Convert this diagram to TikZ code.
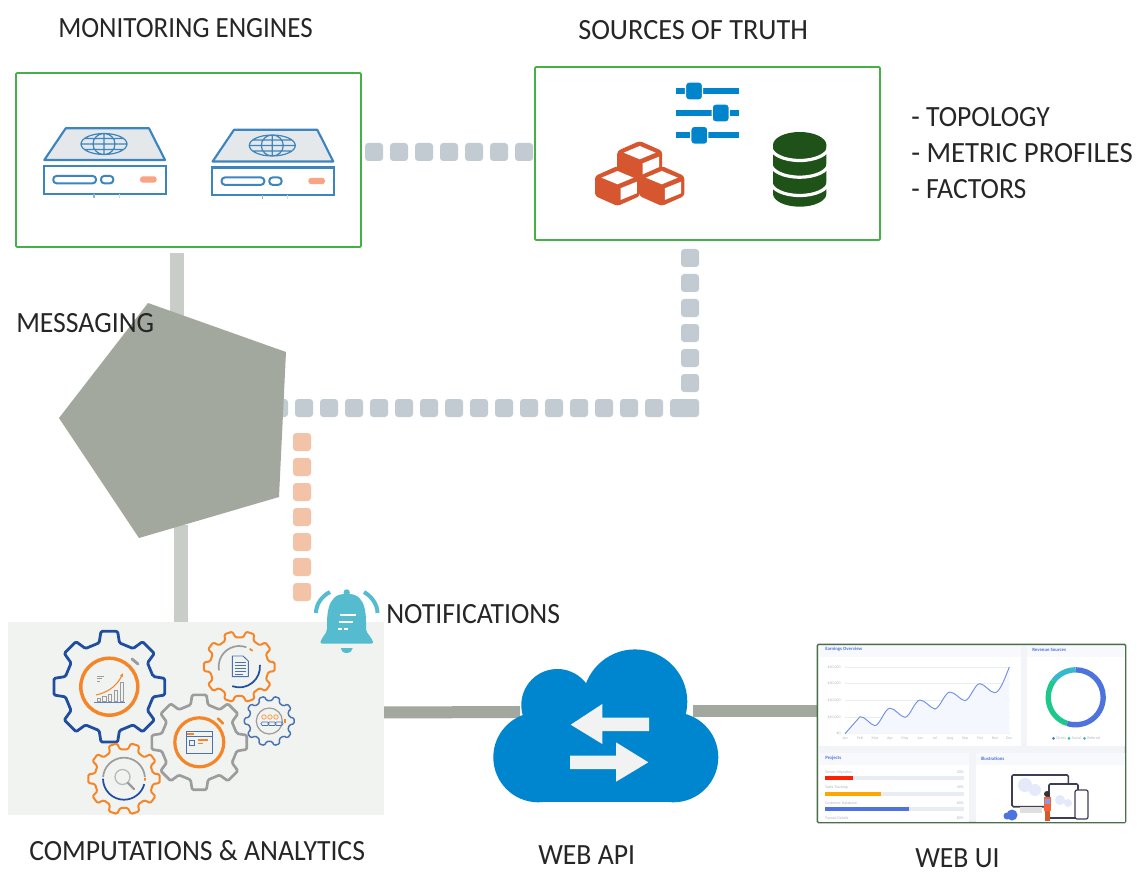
\documentclass[tikz,border=0pt]{standalone}
\usepackage{graphicx}
\usepackage{fontspec}
\setmainfont[FakeStretch=0.945]{Carlito}
\newfontfamily\uifont{Carlito}
\usetikzlibrary{decorations.markings,arrows.meta}
\definecolor{boxgreen}{HTML}{45B045}
\definecolor{srvblue}{HTML}{3D85BD}
\definecolor{srvfill}{HTML}{E4E8EB}
\definecolor{srvorange}{HTML}{F9A484}
\definecolor{dotgray}{HTML}{C2CAD2}
\definecolor{dotorange}{HTML}{F2C3A6}
\definecolor{linelight}{HTML}{C9CDC8}
\definecolor{linedark}{HTML}{A3A89E}
\definecolor{pentagon}{HTML}{A3A89F}
\definecolor{sliderblue}{HTML}{0085CC}
\definecolor{blockred}{HTML}{D5562F}
\definecolor{dbgreen}{HTML}{1E5218}
\definecolor{gearbg}{HTML}{F1F3F1}
\definecolor{gearnavy}{HTML}{1F4E9E}
\definecolor{gearorange}{HTML}{F58529}
\definecolor{geargray}{HTML}{9C9C9C}
\definecolor{bell}{HTML}{55BBCF}
\definecolor{cloud}{HTML}{0085CF}
\definecolor{arrowwhite}{HTML}{F2F2F2}
\definecolor{uiblue}{HTML}{4E73DF}
\definecolor{uigreen}{HTML}{1CC88A}
\definecolor{uicyan}{HTML}{36B9CC}
\definecolor{uibg}{HTML}{F3F4F8}
\definecolor{uihead}{HTML}{F8F9FC}
\definecolor{uiframe}{HTML}{4A704A}
\definecolor{uitext}{HTML}{B5B7C4}
\definecolor{uibar}{HTML}{EAECF4}
\definecolor{uidark}{HTML}{3F3D56}
\tikzset{
  px/.style={x=0.75pt,y=-0.75pt},
  label text/.style={font=\fontsize{22}{24}\selectfont,text=black!85,inner sep=0pt,anchor=west},
  greenbox/.style={draw=boxgreen,line width=1.3pt,fill=white,rounded corners=0.8pt,inner sep=0pt},
  solid light/.style={draw=linelight,line width=10.5pt},
  solid dark/.style={draw=linedark,line width=9pt},
  squares/.style={decoration={markings,mark=between positions 0 and 1 step 18.75pt with {\fill[#1,rounded corners=2.4pt] (-6.75pt,-6.75pt) rectangle (6.75pt,6.75pt);}},decorate},
  gear line/.style={line width=#1,line join=round,line cap=round},
  uitiny/.style={font=\uifont\fontsize{3}{3.5}\selectfont,text=uitext,inner sep=0pt},
  uititle/.style={font=\uifont\bfseries\fontsize{3.6}{4}\selectfont,text=uiblue,inner sep=0pt,anchor=west},
  server/.pic={
    \filldraw[fill=srvfill,draw=srvblue,line width=1.6pt,line join=round] (65.7,128.3)--(149,128.3)--(165,160)--(44.3,160)--cycle;
    \draw[srvblue,line width=0.9pt] (104,144) ellipse (23 and 10.5) (104,144) ellipse (11 and 10.5)
      (104,133.5)--(104,154.5) (81,144)--(127,144) (84,138.5)--(124,138.5) (84,149.5)--(124,149.5);
    \filldraw[fill=white,draw=srvblue,line width=1.6pt] (43.7,166) rectangle (165.7,193.7);
    \draw[srvblue,line width=1.5pt,rounded corners=2.4pt] (53.3,176) rectangle (96,183.3) (101,176) rectangle (113.3,183.3);
    \fill[srvorange,rounded corners=2.2pt] (140,176.3) rectangle (156.7,182.7);
    \draw[srvblue!60,line width=0.9pt] (94,194)--(94,198);
    \draw[srvblue!30,line width=0.9pt] (119.3,194)--(119.3,198);
  },
  cube/.pic={
    \fill[blockred,rounded corners=2.2pt] (0,-20)--(22.5,-10)--(22.5,10)--(0,20)--(-22.5,10)--(-22.5,-10)--cycle;
    \fill[white] (0,-15)--(16,-8.3)--(0,-1.7)--(-16,-8.3)--cycle;
    \fill[white] (3,2.3)--(19.3,-4.3)--(19.3,7.3)--(3,14)--cycle;
  }
}
\newcommand\geardraw[7]{%
  \begin{scope}[shift={(#1,#2)}]
    \pgfmathsetmacro\gp{360/#5}
    \draw[#6,gear line=#7,rounded corners=1pt]
      (-0.29*\gp:#4)
      \foreach \gi in {1,...,#5}{
        -- ({(\gi-1)*\gp-0.19*\gp}:#3) -- ({(\gi-1)*\gp+0.19*\gp}:#3) -- ({(\gi-1)*\gp+0.29*\gp}:#4) -- ({\gi*\gp-0.29*\gp}:#4)
      } -- cycle;
  \end{scope}}
\begin{document}
\begin{tikzpicture}[px]
\useasboundingbox (0,0) rectangle (1137,873);
\fill[white] (0,0) rectangle (1137,873);
\coordinate (monS) at (177,253);
\coordinate (msgN) at (177,320);
\coordinate (msgS) at (181,525);
\coordinate (gearN) at (181,630);
\coordinate (gearE) at (380,712.5);
\coordinate (cloudW) at (520,712);
\coordinate (cloudE) at (693,711);
\coordinate (uiW) at (820,711);
\coordinate (monE) at (374,152);
\coordinate (srcW) at (530,152);
\coordinate (msgE) at (279,408);
\coordinate (corner) at (680,408);
\coordinate (cornerB) at (690,408);
\coordinate (srcS) at (690,253);
\coordinate (msgO) at (302,442);
\coordinate (bellW) at (302,600);
\draw[solid light] (monS) -- (msgN);
\draw[solid light] (msgS) -- (gearN);
\draw[solid dark] (gearE) -- (cloudW);
\draw[solid dark] (cloudE) -- (uiW);
\node[greenbox,minimum width=258.75pt,minimum height=130.5pt] (mon) at (188.5,160) {};
\node[greenbox,minimum width=258.75pt,minimum height=129.75pt] (src) at (707.5,153.5) {};
\path[squares=dotgray] (monE) -- (srcW);
\path[squares=dotgray] (msgE) -- (corner);
\path[squares=dotgray] (cornerB) -- (srcS);
\path[squares=dotorange] (msgO) -- (bellW);
\pic at (0,0) {server};
\pic at (168.3,1.5) {server};
\foreach \sy/\sx in {91/694,113/720.7,135.3/699.3}{
  \draw[sliderblue,line width=4.5pt] (675.7,\sy)--(739,\sy);
  \filldraw[fill=sliderblue,draw=white,line width=0.9pt,rounded corners=2.5pt] (\sx-8.5,\sy-9) rectangle (\sx+8.5,\sy+9);
}
\pic at (639.7,161) {cube};
\pic at (617.5,186) {cube};
\pic at (661.8,186) {cube};
% database
\fill[dbgreen] (773,145) -- (773,193.7) arc[start angle=180,end angle=0,x radius=26.7,y radius=13] -- (826.4,145) arc[start angle=0,end angle=-180,x radius=26.7,y radius=13] -- cycle;
\foreach \gy in {147,163.7,182}{
  \draw[white,line width=2.4pt] (771,\gy) arc[start angle=180,end angle=0,x radius=28.7,y radius=13.5];
}
\node[label text] (lmon) at (58,28) {\scalebox{0.973}[1]{MONITORING ENGINES}};
\node[label text] (lsrc) at (578,30) {\scalebox{1.02}[1]{SOURCES OF TRUTH}};
\node[label text] (ltop) at (911,117) {- TOPOLOGY};
\node[label text] (lmet) at (911,153) {\scalebox{1.038}[1]{- METRIC PROFILES}};
\node[label text] (lfac) at (911,189) {- FACTORS};
\fill[pentagon] (148,303)--(286,352)--(279,497)--(139,538)--(59,418)--cycle;
\node[label text] (lmsg) at (16,323) {MESSAGING};
% gears
\fill[gearbg] (8,622.3) rectangle (384.3,815);
\geardraw{109.3}{686.7}{56}{45}{8}{gearnavy}{2.1pt}
\draw[gearorange,line width=2.6pt] (109.3,686.7) circle (28.5);
\draw[geargray,line width=2.2pt,line cap=round] (132,659)--(138,664);
\draw[gearnavy!70,line width=0.7pt] (94.3,702.7)--(125,702.7);
\foreach \bx/\bt in {97/698,102.5/696,108/694,114/690,120/682}{
  \draw[geargray,line width=0.6pt] (\bx,701.5) rectangle (\bx+3.8,\bt);
}
\draw[gearorange,line width=0.8pt,-{Stealth[length=3pt]}] (96,695) .. controls (110,692) and (118,684) .. (123,673);
\draw[geargray,line width=0.6pt] (97,676)--(104,676) (97,678.5)--(102,678.5) (97,681)--(100,681);
\geardraw{199.3}{742.3}{48}{38.5}{8}{geargray}{2pt}
\draw[gearorange,line width=2.4pt] (199.3,742.3) circle (24.5);
\draw[gearorange,line width=2pt,line cap=round] (218,718.5)--(223,723.5);
\draw[gearnavy!80,line width=0.7pt] (186,731.7) rectangle (212.7,753.3) (186,736)--(212.7,736);
\fill[gearorange] (187,732.5) rectangle (194,735);
\draw[gearnavy!80,line width=0.7pt] (189,740) rectangle (194,745);
\draw[gearorange,line width=1pt] (198,740)--(208,740);
\draw[gearorange,line width=0.7pt] (198,743)--(203,743);
\geardraw{239.3}{666.7}{35.7}{29.5}{10}{gearorange}{1.5pt}
\draw[geargray,line width=1.3pt] (239.3,666.7) ++(-70:20.7) arc[start angle=-70,end angle=-190,radius=20.7];
\draw[gearnavy,line width=1.3pt] (239.3,666.7) ++(110:20.7) arc[start angle=110,end angle=-5,radius=20.7];
\draw[gearorange,line width=1.3pt] (239.3,666.7) ++(-50:20.7) arc[start angle=-50,end angle=-60,radius=20.7];
\draw[gearnavy!80,line width=0.7pt,line join=round] (232.3,656)--(243,656)--(248.3,661)--(248.3,676.7)--(232.3,676.7)--cycle;
\draw[gearnavy!80,line width=0.6pt] (235,662)--(246,662) (235,665)--(246,665) (235,668)--(246,668) (235,671)--(246,671) (235,674)--(243,674);
\geardraw{269.3}{721}{25}{20.5}{10}{gearnavy!80}{1.1pt}
\draw[geargray,line width=0.9pt] (269.3,721) circle (13);
\foreach \hx in {264,270,276}{\draw[gearorange!80,line width=0.6pt] (\hx,717) circle (2.2);}
\foreach \hx in {261,268,275}{\draw[gearnavy!80,line width=0.6pt,rounded corners=1pt] (\hx,725.5) rectangle (\hx+8,722);}
\draw[gearorange,line width=1pt] (285,719)--(285,723);
\geardraw{124}{778.7}{36}{29.5}{10}{gearorange}{1.5pt}
\draw[geargray,line width=1.3pt] (124,778.7) ++(-5:21) arc[start angle=-5,end angle=-175,radius=21];
\draw[gearnavy,line width=1.3pt] (124,778.7) ++(180:21) arc[start angle=180,end angle=15,radius=21];
\draw[gearorange,line width=1.3pt] (124,778.7) ++(5:21) arc[start angle=5,end angle=-2,radius=21];
\draw[geargray!70,line width=1pt] (122.5,777) circle (7.5);
\draw[geargray,line width=1.8pt,line cap=round] (128,783)--(134,789);
\node[label text] (lgear) at (29,851) {COMPUTATIONS \& ANALYTICS};
% bell
\fill[bell] (346.7,592.5) circle (3.2);
\fill[bell,rounded corners=1.5pt] (320,643.5)--(321,640)--(327,631) .. controls (327,618) and (326,594) .. (346.7,594) .. controls (367.4,594) and (366,618) .. (366,631)--(372.5,640)--(373.5,643.5)--cycle;
\fill[bell] (340.7,648) arc[start angle=180,end angle=0,x radius=6,y radius=5]--cycle;
\draw[bell,line width=3pt] (316,613) .. controls (316,604) and (322,596) .. (330,592);
\draw[bell,line width=3pt] (377.5,613) .. controls (377.5,604) and (371,596) .. (364,592);
\draw[white,line width=1.8pt] (340,615)--(356,615) (339,622)--(353,622);
\draw[white,line width=1.5pt] (337.5,628.5)--(342,628.5) (344,628.5)--(347.5,628.5);
\node[label text] (lnot) at (386,614) {NOTIFICATIONS};
% cloud
\fill[cloud] (635,701.7) circle (52.3);
\fill[cloud] (557.3,705) circle (36);
\fill[cloud] (538.3,757.3) circle (45);
\fill[cloud] (673.3,757.3) circle (45);
\fill[cloud] (538.3,715) rectangle (673.3,802.3);
\fill[arrowwhite] (570.7,724.7)--(602.3,704)--(602.3,717.7)--(649,717.7)--(649,731)--(602.3,731)--(602.3,744)--cycle;
\fill[arrowwhite] (648.3,762.3)--(616,742.3)--(616,755.7)--(570,755.7)--(570,769)--(616,769)--(616,781.7)--cycle;
\node[label text] (lapi) at (538,855) {WEB API};
% web UI
\filldraw[fill=uibg,draw=uiframe,line width=1.1pt,rounded corners=1pt] (817.3,644.3) rectangle (1125.7,822.7);
\fill[uihead] (819.3,646) rectangle (1020.7,656.7);
\fill[white] (819.3,656.7) rectangle (1020.7,745.7);
\fill[uihead] (1027.3,646) rectangle (1124.7,656.7);
\fill[white] (1027.3,656.7) rectangle (1124.7,745.7);
\fill[uihead] (819.3,752.7) rectangle (969,765);
\fill[white] (819.3,765) rectangle (969,821.7);
\fill[uihead] (975.7,752.7) rectangle (1124.7,765);
\fill[white] (975.7,765) rectangle (1124.7,821.7);
\node[uititle] (t1) at (825,649.5) {Earnings Overview};
\node[uititle] (t2) at (1032,649.5) {Revenue Sources};
\node[uititle] (t3) at (825,758.5) {Projects};
\node[uititle] (t4) at (980.5,758.5) {Illustrations};
\foreach \ty/\tlab in {667/{\$40,000},683.5/{\$30,000},700/{\$20,000},717/{\$10,000},733.5/{\$0}}{
  \draw[uibar,line width=0.3pt] (845,\ty)--(1010,\ty);
  \node[uitiny,anchor=east] at (841,\ty) {\tlab};
}
\fill[uiblue!6] (845,733.7) -- (860,716.7) .. controls (865,716) and (870,725) .. (875,725.7) .. controls (880,725) and (885,708) .. (890,708.3) .. controls (895,708) and (900,717) .. (905,717.3) .. controls (910,717) and (915,700) .. (920,700) .. controls (925,700) and (930,708) .. (935,709) .. controls (940,708) and (945,692) .. (950,692) .. controls (955,692) and (960,700) .. (965,700.7) .. controls (970,700) and (975,683) .. (980,683.7) .. controls (985,684) and (990,693) .. (995,692.7) .. controls (1000,692) and (1005,678) .. (1009.3,667) -- (1009.3,733.7) -- cycle;
\draw[uiblue!80,line width=0.7pt] (845,733.7) -- (860,716.7) .. controls (865,716) and (870,725) .. (875,725.7) .. controls (880,725) and (885,708) .. (890,708.3) .. controls (895,708) and (900,717) .. (905,717.3) .. controls (910,717) and (915,700) .. (920,700) .. controls (925,700) and (930,708) .. (935,709) .. controls (940,708) and (945,692) .. (950,692) .. controls (955,692) and (960,700) .. (965,700.7) .. controls (970,700) and (975,683) .. (980,683.7) .. controls (985,684) and (990,693) .. (995,692.7) .. controls (1000,692) and (1005,678) .. (1009.3,667);
\foreach \mx/\mn in {845/Jan,860/Feb,875/Mar,890/Apr,905/May,920/Jun,935/Jul,950/Aug,965/Sep,980/Oct,995/Nov,1009.3/Dec}{
  \node[uitiny] at (\mx,738.5) {\mn};
}
\draw[uiblue,line width=4pt] (1075.7,697.3) ++(-90:27.5) arc[start angle=-90,end angle=108,radius=27.5];
\draw[uigreen,line width=4pt] (1075.7,697.3) ++(108:27.5) arc[start angle=108,end angle=216,radius=27.5];
\draw[uicyan,line width=4pt] (1075.7,697.3) ++(216:27.5) arc[start angle=216,end angle=270,radius=27.5];
\fill[uiblue] (1053.5,738.3) circle (1.5);
\node[uitiny,anchor=west] at (1056,738.3) {Direct};
\fill[uigreen] (1069,738.3) circle (1.5);
\node[uitiny,anchor=west] at (1071.5,738.3) {Social};
\fill[uicyan] (1084.5,738.3) circle (1.5);
\node[uitiny,anchor=west] at (1087,738.3) {Referral};
\foreach \by/\bn/\bp/\bw/\bc in {776/Server Migration/20\%/28/red!75!orange,791.5/Sales Tracking/40\%/56/orange!70!yellow,807/Customer Database/60\%/84/uiblue,822/Payout Details/80\%/0/uiblue}{
  \node[uitiny,anchor=west] at (825,\by-4) {\bn};
  \node[uitiny,anchor=east] at (964,\by-4) {\bp};
  \ifnum\bw>0
    \fill[uibar] (825,\by) rectangle (964,\by+4);
    \fill[\bc] (825,\by) rectangle (825+\bw,\by+4);
  \fi
}
% illustration
\draw[uidark,line width=1.2pt,rounded corners=1pt] (1012,806.7) rectangle (1068.3,775);
\fill[uiblue!15] (1025,785) circle (7) (1035,790) circle (6);
\fill[gray!25] (1020,806.7) rectangle (1042,813);
\filldraw[fill=white,draw=uidark,line width=1.2pt,rounded corners=1pt] (1049,784) rectangle (1078,818);
\fill[uiblue!15] (1060,800) circle (5) (1068,803) circle (4);
\filldraw[fill=white,draw=uidark,line width=0.9pt,rounded corners=1.5pt] (1075,790) rectangle (1088,819);
\fill[black!80] (1047,794) circle (3);
\fill[red!55!orange!80] (1044,797) rectangle (1051,811);
\fill[uiblue!70] (1044.5,799) rectangle (1049.5,804);
\fill[brown!70!red] (1045,811) rectangle (1050,821);
\fill[uiblue] (1012,815) circle (5.5) (1007,816) circle (3.5);
\node[label text] (lui) at (915,858) {WEB UI};
\end{tikzpicture}
\end{document}
